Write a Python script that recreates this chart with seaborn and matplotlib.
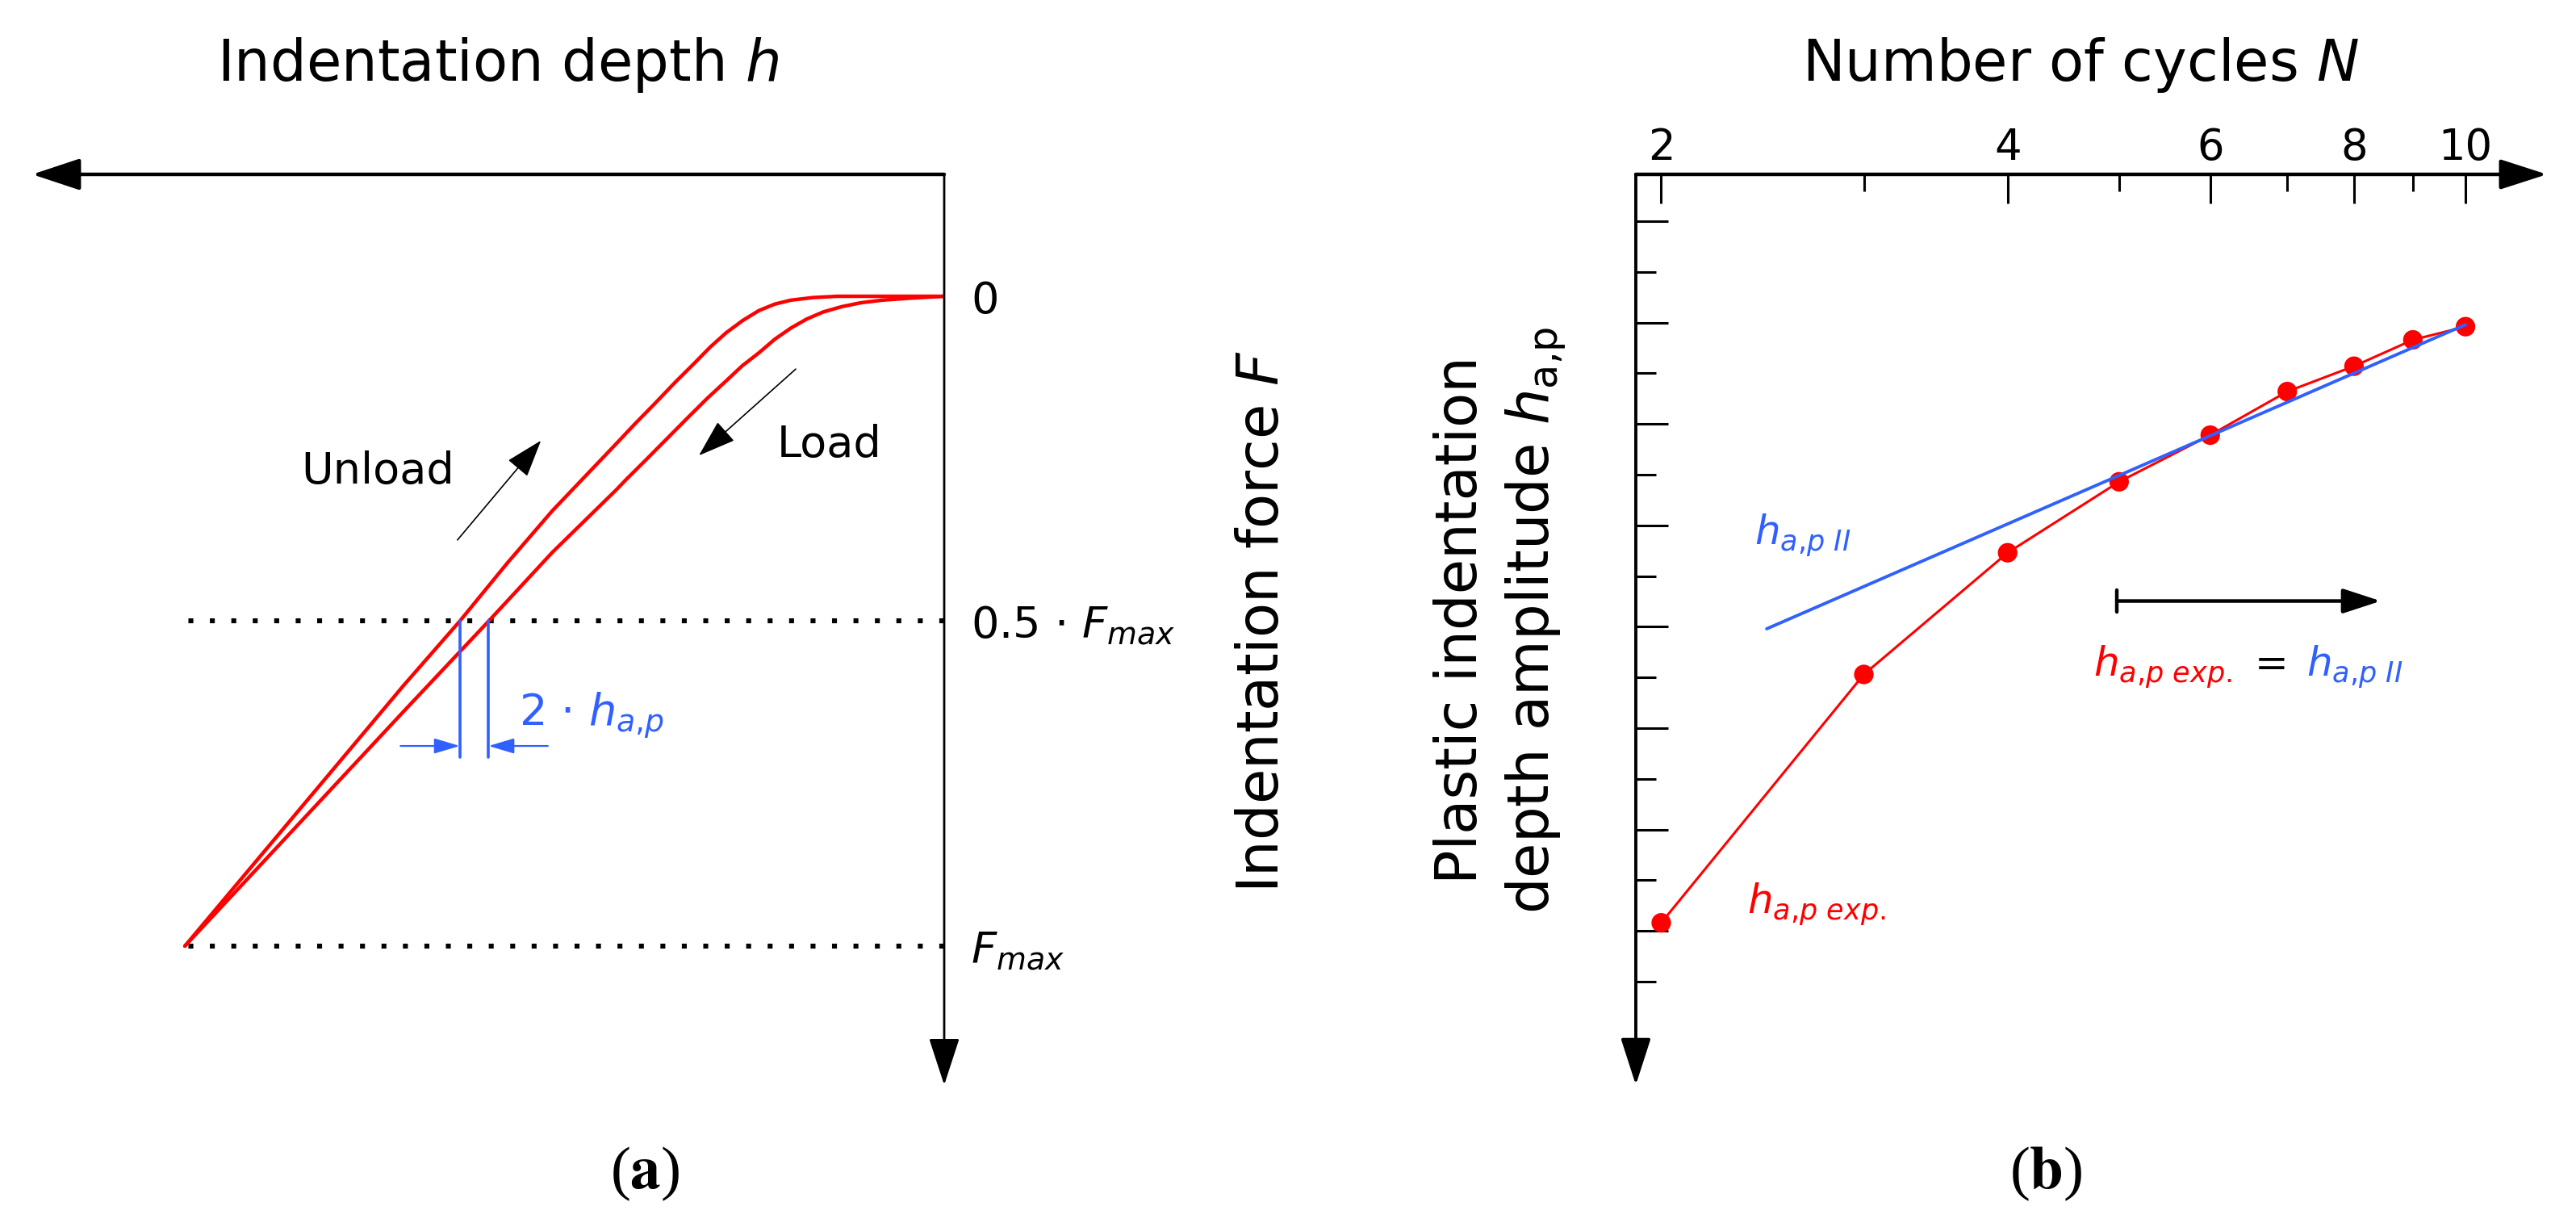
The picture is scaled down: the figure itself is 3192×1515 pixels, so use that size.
import numpy as np
import pandas as pd
import matplotlib.pyplot as plt
import matplotlib.ticker as mticker
import seaborn as sns

sns.set_style('white')
plt.rcParams['font.family'] = 'DejaVu Sans'
plt.rcParams['mathtext.fontset'] = 'dejavusans'
plt.rcParams['text.color'] = 'black'
plt.rcParams['axes.labelcolor'] = 'black'
plt.rcParams['xtick.color'] = 'black'
plt.rcParams['ytick.color'] = 'black'

# ---- data, panel (a): indentation depth h / h_max vs force F / F_max
h_unload = [0.0, 0.082, 0.141, 0.173, 0.202, 0.223, 0.244, 0.265, 0.287, 0.308, 0.329,
            0.354, 0.381, 0.407, 0.432, 0.516, 0.575, 0.638, 0.712, 1.0]
F_unload = [0.0, 0.0, 0.0, 0.002, 0.006, 0.012, 0.022, 0.037, 0.056, 0.078, 0.103,
            0.132, 0.165, 0.196, 0.227, 0.330, 0.410, 0.5, 0.599, 1.0]
h_load = [0.0, 0.046, 0.082, 0.110, 0.135, 0.159, 0.181, 0.202, 0.223, 0.244, 0.266,
          0.287, 0.312, 0.337, 0.365, 0.393, 0.418, 0.432, 0.516, 0.600, 0.712, 1.0]
F_load = [0.0, 0.003, 0.006, 0.010, 0.016, 0.024, 0.035, 0.049, 0.066, 0.087, 0.107,
          0.130, 0.157, 0.186, 0.219, 0.252, 0.281, 0.298, 0.394, 0.5, 0.639, 1.0]
F_levels = [0.0, 0.5, 1.0]
F_labels = ['0', r'0.5 $\cdot$ $F_{max}$', r'$F_{max}$']

# ---- data, panel (b): plastic indentation depth amplitude vs cycles
N_cycles = [2, 3, 4, 5, 6, 7, 8, 9, 10]
h_ap_exp = [6.92, 4.47, 3.27, 2.57, 2.11, 1.68, 1.43, 1.17, 1.04]
N_fit = [2.47, 10.0]
h_ap_fit = [4.02, 1.02]
N_major = [2, 4, 6, 8, 10]
N_minor = [3, 5, 7, 9]
h_major = [0, 1, 2, 3, 4, 5, 6, 7]
h_minor = [0.5, 1.5, 2.5, 3.5, 4.5, 5.5, 6.5, 7.5]

RED = '#ff0000'
BLUE = '#3060ff'
W, H = 3192, 1515
fig = plt.figure(figsize=(W / 200, H / 200), dpi=200)


def arrow(ax, start, end, color='k', lw=1.0, hl=10, hw=3, coords='data'):
    ax.annotate('', xy=end, xytext=start, xycoords=coords, textcoords=coords,
                arrowprops=dict(arrowstyle=f'-|>,head_length={hl},head_width={hw}',
                                color=color, lw=lw, shrinkA=0, shrinkB=0,
                                mutation_scale=1))


# ================= panel (a)
ax_a = fig.add_axes([40 / W, 1 - 1344 / H, 1130 / W, 1128 / H])
ax_a.patch.set_alpha(0)
for s in ax_a.spines.values():
    s.set_visible(False)

# reference levels
for lvl in F_levels[1:]:
    ax_a.plot([0, 1], [lvl, lvl], color='k', lw=2.2,
              ls=(0, (1.0, 3.35)), dash_capstyle='butt')

sns.lineplot(data=pd.DataFrame({'h': h_unload, 'F': F_unload}), x='h', y='F',
             sort=False, estimator=None, color=RED, lw=1.6, ax=ax_a)
sns.lineplot(data=pd.DataFrame({'h': h_load, 'F': F_load}), x='h', y='F',
             sort=False, estimator=None, color=RED, lw=1.6, ax=ax_a)

ax_a.set_xlim(1.2009, 0)
ax_a.set_ylim(1.2137, -0.1876)
ax_a.set_xlabel('')
ax_a.set_ylabel('')
ax_a.set_xticks([])
ax_a.yaxis.tick_right()
ax_a.set_yticks(F_levels, labels=F_labels)
ax_a.tick_params(axis='y', length=0, pad=12, labelsize=19.5)

# axes with arrows
arrow(ax_a, (1, 1), (0, 1), lw=1.6, hl=18.4, hw=6.1, coords='axes fraction')
arrow(ax_a, (1, 1), (1, 0), lw=1.0, hl=18.4, hw=6.0, coords='axes fraction')

# plastic width at 0.5 F_max
h_u = np.interp(0.5, F_unload, h_unload)
h_l = np.interp(0.5, F_load, h_load)
for hh in (h_u, h_l):
    ax_a.plot([hh, hh], [0.5, 0.709], color=BLUE, lw=1.3)
arrow(ax_a, (0.716, 0.692), (h_u, 0.692), color=BLUE, lw=0.8, hl=9.7, hw=2.9)
arrow(ax_a, (0.522, 0.692), (h_l, 0.692), color=BLUE, lw=0.8, hl=9.7, hw=2.9)
ax_a.text(0.560, 0.661, r'2 $\cdot$ $h_{a{,}p}$', color=BLUE, fontsize=19.5,
          ha='left', va='baseline')

# load / unload arrows
arrow(ax_a, (0.641, 0.375), (0.531, 0.222), lw=0.6, hl=14.8, hw=5.0)
arrow(ax_a, (0.1955, 0.112), (0.323, 0.245), lw=0.6, hl=14.8, hw=5.0)
ax_a.text(0.746, 0.288, 'Unload', fontsize=19.5, ha='center', va='baseline')
ax_a.text(0.151, 0.247, 'Load', fontsize=19.5, ha='center', va='baseline')

fig.text(617 / W, 1 - 100 / H, r'Indentation depth $h$', fontsize=25.4,
         ha='center', va='baseline')
fig.text(1584 / W, 1 - 770 / H, r'Indentation force $F$', fontsize=25.4,
         rotation=90, rotation_mode='anchor', ha='center', va='baseline')

# ================= panel (b)
ax_b = fig.add_axes([2027 / W, 1 - 1344 / H, 1129 / W, 1128 / H])
ax_b.patch.set_alpha(0)
for s in ax_b.spines.values():
    s.set_visible(False)
ax_b.set_xscale('log')

sns.lineplot(x=N_cycles, y=h_ap_exp, estimator=None, color=RED, lw=1.1, ax=ax_b)
sns.scatterplot(x=N_cycles, y=h_ap_exp, color=RED, s=76, edgecolor='none',
                zorder=3, ax=ax_b)
sns.lineplot(x=N_fit, y=h_ap_fit, estimator=None, color=BLUE, lw=1.4, ax=ax_b,
             zorder=4)

ax_b.set_xlim(1.9009, 11.77)
ax_b.set_ylim(8.519, -0.462)
ax_b.set_xlabel('')
ax_b.set_ylabel('')

ax_b.set_xticks(N_major, labels=[str(n) for n in N_major])
ax_b.set_xticks(N_minor, minor=True)
ax_b.xaxis.set_minor_formatter(mticker.NullFormatter())
ax_b.set_yticks(h_major)
ax_b.set_yticks(h_minor, minor=True)
ax_b.tick_params(axis='x', which='both', direction='in', top=True, bottom=False,
                 labeltop=True, labelbottom=False, width=1.1, color='k')
ax_b.tick_params(axis='x', which='major', length=13, pad=2.5, labelsize=19)
ax_b.tick_params(axis='x', which='minor', length=7.6)
ax_b.tick_params(axis='y', which='both', direction='in', left=True, right=False,
                 labelleft=False, width=1.1, color='k')
ax_b.tick_params(axis='y', which='major', length=14.4)
ax_b.tick_params(axis='y', which='minor', length=9)

arrow(ax_b, (0, 1), (1, 1), lw=1.6, hl=18.0, hw=5.8, coords='axes fraction')
arrow(ax_b, (0, 1), (0, 0), lw=1.4, hl=18.0, hw=5.8, coords='axes fraction')

# validity range of the fit
ax_b.plot([4.98, 4.98], [3.746 - 0.105, 3.746 + 0.105], color='k', lw=1.6)
arrow(ax_b, (4.98, 3.746), (8.44, 3.746), lw=1.6, hl=14.4, hw=4.7)

ax_b.text(2.412, 3.19, r'$h_{a{,}p\ II}$', color=BLUE, fontsize=18, va='baseline')
ax_b.text(2.377, 6.83, r'$h_{a{,}p\ exp.}$', color=RED, fontsize=18, va='baseline')
ax_b.text(4.75, 4.49, r'$h_{a{,}p\ exp.}$', color=RED, fontsize=18, va='baseline')
ax_b.text(6.56, 4.49, '=', color='k', fontsize=18, va='baseline')
ax_b.text(7.27, 4.49, r'$h_{a{,}p\ II}$', color=BLUE, fontsize=18, va='baseline')

fig.text(2578 / W, 1 - 100 / H, r'Number of cycles $N$', fontsize=25.4,
         ha='center', va='baseline')
fig.text(1830 / W, 1 - 768 / H, 'Plastic indentation', fontsize=25.4,
         rotation=90, rotation_mode='anchor', ha='center', va='baseline')
fig.text(1919 / W, 1 - 768 / H, r'depth amplitude $h_{\mathrm{a{,}p}}$', fontsize=25.4,
         rotation=90, rotation_mode='anchor', ha='center', va='baseline')

# captions
fig.text(799 / W, 1 - 1472 / H, r'($\mathbf{a}$)', fontsize=27, family='Liberation Serif',
         math_fontfamily='stix', ha='center', va='baseline')
fig.text(2535 / W, 1 - 1472 / H, r'($\mathbf{b}$)', fontsize=27, family='Liberation Serif',
         math_fontfamily='stix', ha='center', va='baseline')

fig.savefig('out.png', dpi=200)
